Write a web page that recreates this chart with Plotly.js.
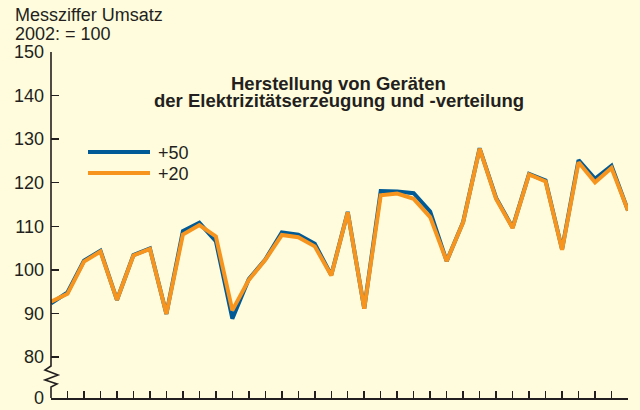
<!DOCTYPE html>
<html>
<head>
<meta charset="utf-8">
<script src="https://cdn.plot.ly/plotly-3.0.1.min.js"></script>
<style>
  html, body { margin: 0; padding: 0; background: #fefcdc; }
  #chart { width: 640px; height: 410px; }
</style>
</head>
<body>
<div id="chart"></div>
<script>
// ---- data ----
const months = [1,2,3,4,5,6,7,8,9,10,11,12,13,14,15,16,17,18,19,20,21,22,23,24,25,26,27,28,29,30,31,32,33,34,35,36];
const seriesNames = ['+50', '+20'];
const plus50 = [92.3, 94.8, 102.1, 104.4, 93.1, 103.4, 104.9, 89.9, 108.9, 110.8, 106.6, 88.8,
                97.9, 102.4, 108.6, 108.1, 106.0, 98.8, 113.3, 91.1, 118.1, 118.0, 117.6, 113.4,
                102.0, 111.0, 127.9, 116.5, 109.7, 122.0, 120.5, 104.7, 125.2, 120.9, 123.9, 113.6];
const plus20 = [92.7, 94.5, 101.9, 104.2, 93.1, 103.3, 104.8, 89.9, 108.1, 110.3, 107.7, 90.7,
                97.7, 102.3, 108.0, 107.5, 105.4, 98.7, 113.2, 91.1, 117.1, 117.5, 116.3, 112.1,
                102.0, 110.9, 127.8, 116.3, 109.6, 121.9, 120.3, 104.6, 124.7, 120.1, 123.4, 113.6];
const yTickVals = [70.6, 80, 90, 100, 110, 120, 130, 140, 150];
const yTickText = ['0', '80', '90', '100', '110', '120', '130', '140', '150'];
const yAxisLabel = ['Messziffer Umsatz', '2002: = 100'];
const titleLines = ['Herstellung von Geräten', 'der Elektrizitätserzeugung und -verteilung'];

// ---- style ----
const BG = '#fefcdc';
const INK = '#231f20';
const BLUE = '#005a96';
const ORANGE = '#f7941d';
const FONT = 'Liberation Sans, Arial, sans-serif';

const L = 51, R = 12, T = 52, B = 12;
const W = 640 - L - R, H = 410 - T - B;
const px = x => (x - L) / W;            // pixel x -> paper x
const py = y => (410 - B - y) / H;      // pixel y -> paper y

const traces = [
  { x: months, y: plus50, name: seriesNames[0], mode: 'lines',
    line: { color: BLUE, width: 4, shape: 'linear' }, hoverinfo: 'skip' },
  { x: months, y: plus20, name: seriesNames[1], mode: 'lines',
    line: { color: ORANGE, width: 4, shape: 'linear' }, hoverinfo: 'skip' }
];

// y axis line with break (pixel x, data y)
const yFromPx = p => 70.6 + (410 - B - p) / (H / (150 - 70.6));
const zig = [[51, 366], [45, 370], [58, 375], [45, 380], [57, 384], [51, 387], [51, 398]];
let zigPath = 'M ' + px(51) + ',' + yFromPx(52) + ' L ' + px(51) + ',' + yFromPx(366);
zig.forEach(p => { zigPath += ' L ' + px(p[0]) + ',' + yFromPx(p[1]); });

const shapes = [
  { type: 'path', xref: 'paper', yref: 'y', path: zigPath,
    line: { color: INK, width: 1.6 }, layer: 'above' },
  // legend samples
  { type: 'line', xref: 'paper', yref: 'paper', x0: px(88), x1: px(150), y0: py(152), y1: py(152),
    line: { color: BLUE, width: 4 } },
  { type: 'line', xref: 'paper', yref: 'paper', x0: px(88), x1: px(150), y0: py(173), y1: py(173),
    line: { color: ORANGE, width: 4 } }
];

const ann = (text, x, y, opts, size) => Object.assign({
  text: text, xref: 'paper', yref: 'paper', x: px(x), y: py(y),
  showarrow: false, xanchor: 'left', yanchor: 'middle',
  font: { family: FONT, size: size || 18, color: INK }
}, opts || {});

const annotations = [
  ann(yAxisLabel[0], 13, 15),
  ann(yAxisLabel[1], 13, 34),
  ann('<b>' + titleLines[0] + '</b>', 338, 83, { xanchor: 'center' }, 18.5),
  ann('<b>' + titleLines[1] + '</b>', 339, 100, { xanchor: 'center' }, 18.5),
  ann(seriesNames[0], 156, 153),
  ann(seriesNames[1], 156, 174)
];

const layout = {
  width: 640, height: 410,
  margin: { l: L, r: R, t: T, b: B, pad: 0 },
  paper_bgcolor: BG, plot_bgcolor: BG,
  showlegend: false,
  font: { family: FONT, size: 18, color: INK },
  xaxis: {
    range: [1, 36], tickvals: months, showticklabels: false,
    ticks: 'inside', ticklen: 7, tickwidth: 1.5, tickcolor: INK,
    showline: true, linecolor: INK, linewidth: 2,
    showgrid: false, zeroline: false, fixedrange: true
  },
  yaxis: {
    range: [70.6, 150], tickvals: yTickVals, ticktext: yTickText,
    ticks: 'inside', ticklen: 8, tickwidth: 1.5, tickcolor: INK,
    ticklabelstandoff: 6,
    tickfont: { family: FONT, size: 18, color: INK },
    showline: false, showgrid: false, zeroline: false, fixedrange: true
  },
  shapes: shapes,
  annotations: annotations
};

Plotly.newPlot('chart', traces, layout, { staticPlot: true, displayModeBar: false });
</script>
</body>
</html>
